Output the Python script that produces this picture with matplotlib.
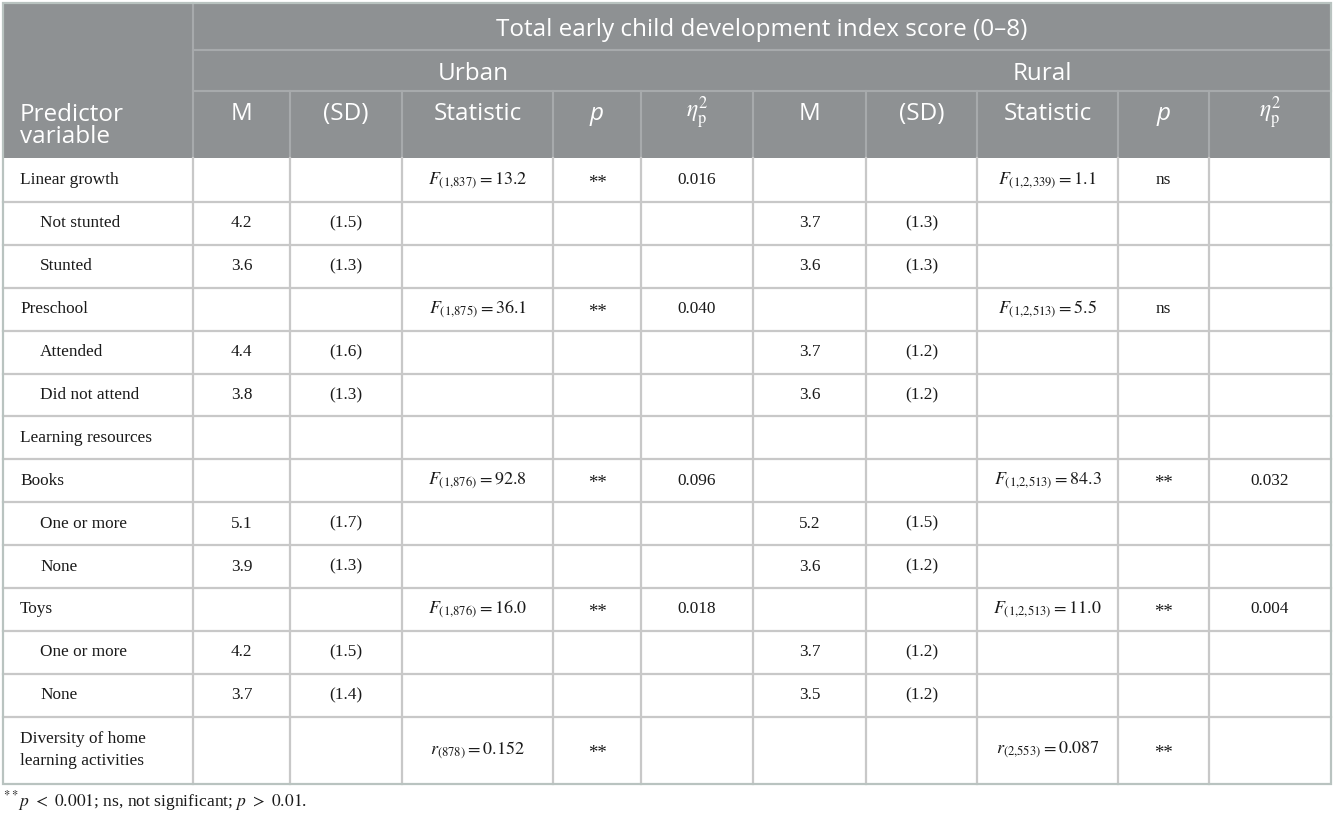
import matplotlib.pyplot as plt
from matplotlib.patches import Rectangle

plt.rcParams['mathtext.fontset'] = 'stix'

# table content
row_labels = ["Linear growth", "Not stunted", "Stunted", "Preschool", "Attended",
              "Did not attend", "Learning resources", "Books", "One or more", "None",
              "Toys", "One or more", "None", "Diversity of home\nlearning activities"]
indent = [0, 1, 1, 0, 1, 1, 0, 0, 1, 1, 0, 1, 1, 0]

urban_m = ["", "4.2", "3.6", "", "4.4", "3.8", "", "", "5.1", "3.9", "", "4.2", "3.7", ""]
urban_sd = ["", "(1.5)", "(1.3)", "", "(1.6)", "(1.3)", "", "", "(1.7)", "(1.3)", "", "(1.5)", "(1.4)", ""]
urban_stat = [r"$F_{(1{,}837)} = 13.2$", "", "", r"$F_{(1{,}875)} = 36.1$", "", "", "",
              r"$F_{(1{,}876)} = 92.8$", "", "", r"$F_{(1{,}876)} = 16.0$", "", "",
              r"$r_{(878)} = 0.152$"]
urban_p = ["**", "", "", "**", "", "", "", "**", "", "", "**", "", "", "**"]
urban_eta = ["0.016", "", "", "0.040", "", "", "", "0.096", "", "", "0.018", "", "", ""]

rural_m = ["", "3.7", "3.6", "", "3.7", "3.6", "", "", "5.2", "3.6", "", "3.7", "3.5", ""]
rural_sd = ["", "(1.3)", "(1.3)", "", "(1.2)", "(1.2)", "", "", "(1.5)", "(1.2)", "", "(1.2)", "(1.2)", ""]
rural_stat = [r"$F_{(1{,}2{,}339)} = 1.1$", "", "", r"$F_{(1{,}2{,}513)} = 5.5$", "", "", "",
              r"$F_{(1{,}2{,}513)} = 84.3$", "", "", r"$F_{(1{,}2{,}513)} = 11.0$", "", "",
              r"$r_{(2{,}553)} = 0.087$"]
rural_p = ["ns", "", "", "ns", "", "", "", "**", "", "", "**", "", "", "**"]
rural_eta = ["", "", "", "", "", "", "", "0.032", "", "", "0.004", "", "", ""]

sub_headers = ["M", "(SD)", "Statistic", "$p$", r"$\eta^2_\mathrm{p}$"]
title = "Total early child development index score (0\u20138)"
groups = ["Urban", "Rural"]
footnote = r"$^{**}p\ <\ 0.001$; ns, not significant; $p\ >\ 0.01$."

# geometry (pixels)
col_x = [3, 193, 290, 402, 553, 641, 753, 866, 977, 1118, 1209, 1331]
head_y = [3, 50, 91, 158]
row_top = 159
row_h = 42.9
last_h = 67

hdr_bg = '#8e9193'
hdr_line = '#a7aaac'
grid = '#c8c8c8'
border = '#b9c3c0'

fig = plt.figure(figsize=(13.33, 8.16), dpi=100)
ax = fig.add_axes([0, 0, 1, 1])
ax.set_xlim(0, 1333)
ax.set_ylim(816, 0)
ax.axis('off')

# header block
ax.add_patch(Rectangle((col_x[0], head_y[0]), col_x[-1] - col_x[0], head_y[3] - head_y[0],
                       facecolor=hdr_bg, edgecolor='none', zorder=1))
ax.plot([col_x[1], col_x[1]], [head_y[0], head_y[3]], color=hdr_line, lw=1.5, zorder=2)
ax.plot([col_x[1], col_x[-1]], [head_y[1], head_y[1]], color=hdr_line, lw=1.5, zorder=2)
ax.plot([col_x[1], col_x[-1]], [head_y[2], head_y[2]], color=hdr_line, lw=1.5, zorder=2)
for x in col_x[2:-1]:
    ax.plot([x, x], [head_y[2], head_y[3]], color=hdr_line, lw=1.5, zorder=2)

hfont = dict(color='white', fontsize=17.5, family='Open Sans')
ax.text((col_x[1] + col_x[-1]) / 2, (head_y[0] + head_y[1]) / 2 + 3, title,
        ha='center', va='center', **hfont)
ax.text((col_x[1] + col_x[6]) / 2, (head_y[1] + head_y[2]) / 2 + 3, groups[0],
        ha='center', va='center', **hfont)
ax.text((col_x[6] + col_x[-1]) / 2, (head_y[1] + head_y[2]) / 2 + 3, groups[1],
        ha='center', va='center', **hfont)
ax.text(20, 126, "Predictor\nvariable", ha='left', va='center', linespacing=0.9, **hfont)
for g in range(2):
    for k, h in enumerate(sub_headers):
        c = 1 + g * 5 + k
        xc = (col_x[c] + col_x[c + 1]) / 2
        if h.startswith('$p'):
            ax.text(xc, 114, 'p', ha='center', va='center', style='italic', **hfont)
        elif 'eta' in h:
            ax.text(xc, 113, h, ha='center', va='center', color='white', fontsize=17)
        else:
            ax.text(xc, 114, h, ha='center', va='center', **hfont)

# body rows
n = len(row_labels)
tops = [row_top + i * row_h for i in range(n)]
bottoms = tops[1:] + [tops[-1] + last_h]
columns = [urban_m, urban_sd, urban_stat, urban_p, urban_eta,
           rural_m, rural_sd, rural_stat, rural_p, rural_eta]

bfont = dict(fontsize=12.4, family='Liberation Serif', color='#1a1a1a')
for i in range(n):
    yc = (tops[i] + bottoms[i]) / 2
    ax.text(20 + 20 * indent[i], yc, row_labels[i], ha='left', va='center',
            linespacing=1.45, **bfont)
    for c, col in enumerate(columns):
        val = col[i]
        if not val:
            continue
        xc = (col_x[c + 1] + col_x[c + 2]) / 2
        if val.startswith('$'):
            ax.text(xc, yc, val, ha='center', va='center', fontsize=13, color='#1a1a1a')
        elif val == "**":
            ax.text(xc, yc + 3, val, ha='center', va='center', fontsize=13.5,
                    family='Liberation Serif', color='#1a1a1a')
        else:
            ax.text(xc, yc, val, ha='center', va='center', **bfont)

# grid lines
for y in tops[1:]:
    ax.plot([col_x[0], col_x[-1]], [y, y], color=grid, lw=1.6, zorder=2)
for x in col_x[1:-1]:
    ax.plot([x, x], [head_y[3], bottoms[-1]], color=grid, lw=1.6, zorder=2)
ax.add_patch(Rectangle((col_x[0], head_y[0]), col_x[-1] - col_x[0], bottoms[-1] - head_y[0],
                       facecolor='none', edgecolor=border, lw=1.6, zorder=3))

ax.text(col_x[0], 801, footnote, ha='left', va='center', fontsize=12.6,
        family='Liberation Serif', color='#1a1a1a')

fig.savefig('out.png', dpi=100)
